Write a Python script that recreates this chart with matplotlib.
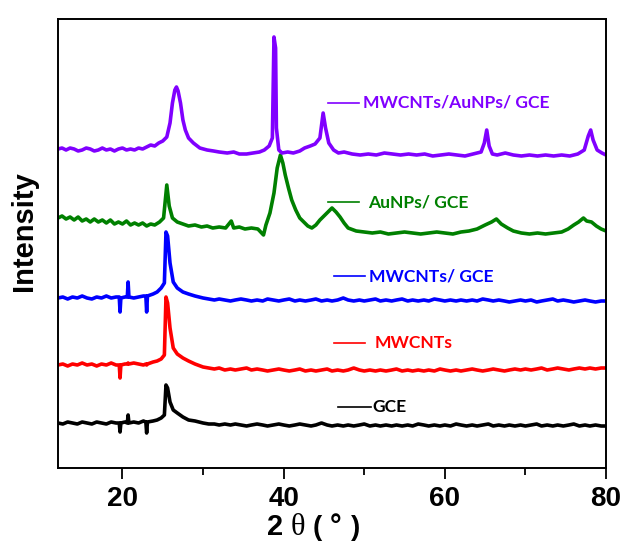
import matplotlib
matplotlib.use("Agg")
import matplotlib.pyplot as plt

# ---------------- data (arbitrary intensity units, stacked) ----------------
head_x = [12, 12.6, 13.2, 13.8, 14.4, 15, 15.6, 16.2, 16.8, 17.4, 18, 18.6, 19.2,
          19.6, 19.7, 19.8, 20.3, 20.6, 20.7, 20.8, 21.4, 22, 22.6, 22.9, 23.0, 23.1,
          23.8, 24.3, 24.8, 25.2, 25.4, 25.6, 25.9, 26.3, 26.8, 27.5, 28.2, 29]
tail_x = [30, 30.7, 31.4, 32, 32.7, 33.4, 34, 34.7, 35.4, 36, 36.7, 37.4, 38, 38.7, 39.4,
          40, 40.7, 41.4, 42, 42.7, 43.4, 44, 44.7, 45.4, 46, 46.7, 47.4, 48, 48.7, 49.4,
          50, 50.7, 51.4, 52, 52.7, 53.4, 54, 54.7, 55.4, 56, 56.7, 57.4, 58, 58.7, 59.4,
          60, 60.7, 61.4, 62, 62.7, 63.4, 64, 64.7, 65.4, 66, 66.7, 67.4, 68, 68.7, 69.4,
          70, 70.7, 71.4, 72, 72.7, 73.4, 74, 74.7, 75.4, 76, 76.7, 77.4, 78, 78.7, 79.4, 80]
two_theta = head_x + tail_x

gce_y = [45, 44, 46, 45, 44, 46, 45, 44, 46, 45, 44, 46, 45,
         45, 36, 45, 46, 45, 53, 45, 46, 45, 47, 46, 35, 46,
         47, 48, 50, 53, 83, 80, 66, 58, 55, 51, 48, 47,
         45, 44, 44, 43, 44, 43, 44, 43, 42, 43,
         44, 43, 42, 43, 44, 43, 42, 43, 44, 43,
         42, 43, 45, 43, 42, 43, 42, 43, 42, 43,
         44, 42, 43, 42, 43, 42, 43, 42, 43, 42,
         44, 43, 42, 43, 42, 43, 42, 44, 43, 42,
         43, 42, 43, 44, 42, 43, 42, 43, 42, 43,
         42, 43, 44, 42, 43, 42, 43, 42, 43, 44,
         42, 43, 42, 43, 42, 42]

mwcnt_y = [103, 104, 102, 104, 103, 105, 103, 104, 102, 104, 103, 105, 103,
           103, 90, 103, 104, 104, 105, 104, 105, 104, 103, 104, 103, 104,
           106, 107, 109, 113, 171, 165, 140, 120, 114, 110, 107, 104,
           101, 100, 99, 100, 98, 99, 98, 99, 100, 98,
           99, 98, 97, 98, 99, 98, 97, 98, 99, 97,
           98, 97, 98, 99, 97, 98, 97, 98, 100, 98,
           97, 98, 97, 98, 97, 98, 99, 97, 98, 97,
           98, 97, 98, 97, 99, 98, 97, 98, 97, 98,
           99, 98, 97, 98, 99, 98, 97, 98, 99, 98,
           99, 98, 99, 100, 98, 99, 100, 99, 98, 99,
           100, 99, 100, 99, 100, 100]

mwcnt_gce_y = [170, 171, 169, 171, 170, 172, 170, 169, 171, 170, 172, 170, 171,
               171, 156, 170, 171, 171, 186, 171, 170, 171, 172, 172, 156, 172,
               174, 176, 180, 185, 236, 232, 205, 186, 180, 176, 174, 172,
               170, 169, 168, 169, 168, 167, 168, 169, 168, 167,
               168, 167, 169, 168, 167, 168, 169, 167, 168, 167,
               168, 169, 167, 168, 167, 168, 170, 168, 167, 168,
               167, 168, 169, 167, 168, 167, 168, 169, 167, 168,
               167, 168, 167, 169, 168, 167, 168, 167, 168, 167,
               168, 167, 169, 168, 167, 168, 167, 166, 167, 168,
               167, 168, 166, 167, 168, 169, 167, 168, 167, 166,
               167, 168, 167, 166, 167, 167]

au_x = [12, 12.5, 13, 13.5, 14, 14.5, 15, 15.5, 16, 16.5, 17, 17.5, 18, 18.5, 19, 19.5,
        20, 20.5, 21, 21.5, 22, 22.5, 23, 23.5, 24, 24.6, 25.1, 25.5, 25.8, 26.2, 26.8,
        27.5, 28.2, 29, 29.8, 30.5, 31.2, 32, 32.8, 33.5, 33.8, 34.5, 35.2, 36, 36.8,
        37.5, 37.8, 38.3, 38.8, 39.2, 39.6, 39.9, 40.2, 40.6, 41, 41.5, 42, 42.5, 43,
        43.5, 44, 44.5, 45, 45.5, 46, 46.5, 47, 47.5, 48, 49, 50, 51, 52, 53, 54, 55,
        56, 57, 58, 59, 60, 61, 62, 63, 64, 65, 65.8, 66.4, 67, 67.8, 68.5, 69.5, 70.5,
        71.5, 72.5, 73.5, 74.5, 75.3, 76, 76.6, 77.2, 77.6, 78.2, 78.8, 79.4, 80]
au_gce_y = [250, 252, 249, 251, 248, 251, 247, 249, 246, 249, 246, 248, 245, 248, 244, 246,
            244, 247, 243, 245, 243, 245, 242, 244, 243, 246, 250, 283, 262, 250, 246,
            244, 242, 243, 241, 242, 240, 241, 240, 247, 240, 241, 239, 240, 239,
            233, 243, 255, 275, 300, 313, 305, 293, 280, 268, 258, 250, 246, 242,
            240, 243, 248, 252, 256, 260, 256, 251, 245, 240, 237, 236, 235, 236, 234, 235, 236,
            235, 234, 235, 236, 235, 234, 236, 237, 239, 243, 246, 249, 244, 240, 237, 235, 234,
            235, 234, 235, 236, 239, 243, 246, 250, 247, 246, 242, 239, 237]

mix_x = [12, 12.5, 13, 13.5, 14, 14.5, 15, 15.5, 16, 16.5, 17, 17.5, 18, 18.5, 19, 19.5,
         20, 20.5, 21, 21.5, 22, 22.5, 23, 23.5, 24, 24.5, 25, 25.5, 25.9, 26.2, 26.5, 26.7,
         26.9, 27.2, 27.5, 27.8, 28.2, 28.8, 29.6, 30.5, 31.3, 32, 33, 33.8, 34.5, 35.4,
         36.2, 37, 37.6, 38.2, 38.6, 38.8, 39.0, 39.1, 39.4, 39.8, 40.5, 41.2, 42, 42.6,
         43.3, 43.9, 44.5, 44.9, 45.2, 45.6, 46.2, 46.8, 47.5, 48.5, 49.5, 50.5, 51.5,
         52.5, 53.5, 54.5, 55.5, 56.5, 57.5, 58.5, 59.5, 60.5, 61.5, 62.5, 63.5, 64.5,
         64.9, 65.2, 65.5, 65.9, 66.5, 67.5, 68.5, 69.5, 70.5, 71.5, 72.5, 73.5, 74.5,
         75.5, 76.5, 77.3, 77.8, 78.1, 78.4, 78.9, 79.5, 80]
mix_y = [319, 320, 318, 320, 319, 317, 318, 320, 319, 317, 318, 320, 318, 319, 317, 319,
         320, 318, 319, 318, 320, 319, 321, 323, 322, 325, 327, 331, 345, 365, 378, 381,
         377, 365, 348, 338, 330, 325, 320, 318, 317, 316, 315, 316, 314, 314,
         315, 316, 318, 322, 330, 431, 420, 340, 318, 315, 316, 315, 317, 320,
         322, 324, 330, 355, 340, 325, 318, 315, 316, 314, 313, 314, 313,
         315, 314, 313, 314, 313, 314, 312, 313, 314, 313, 312, 314, 316,
         325, 338, 322, 314, 313, 315, 313, 312, 313, 312, 313, 312, 313,
         312, 314, 318, 332, 338, 328, 318, 315, 313]

labels = ["GCE", "MWCNTs", "MWCNTs/ GCE", "AuNPs/ GCE", "MWCNTs/AuNPs/ GCE"]
colors = ["#000000", "#ff0000", "#0000ff", "#008000", "#8000ff"]

series = [(two_theta, gce_y), (two_theta, mwcnt_y), (two_theta, mwcnt_gce_y),
          (au_x, au_gce_y), (mix_x, mix_y)]

# label anchor (line start, line end, text x, y) in data coords
label_pos = [(46.7, 50.8, 51.0, 61), (46.2, 50.1, 51.3, 125), (46.2, 50.1, 50.6, 192),
             (45.5, 49.3, 50.5, 266), (45.5, 49.3, 49.9, 365)]

# ---------------- figure ----------------
fig = plt.figure(figsize=(6.21, 5.44), dpi=100)
ax = fig.add_axes([58 / 621, 76 / 544, 548 / 621, 449 / 544])

for (xs, ys), c in zip(series, colors):
    ax.plot(xs, ys, color=c, lw=2.6, solid_joinstyle="round")

for (x0, x1, xt, yv), lab, c in zip(label_pos, labels, colors):
    ax.plot([x0, x1], [yv, yv], color=c, lw=1.2)
    ax.text(xt, yv, lab, color=c, fontsize=12.6, fontweight="bold",
            family=["Lato", "DejaVu Sans"], va="center", ha="left")

ax.set_xlim(12, 80)
ax.set_ylim(0, 449)
ax.set_yticks([])
ax.set_xticks([20, 40, 60, 80])
ax.set_xticks([30, 50, 70], minor=True)
ax.tick_params(axis="x", which="major", length=8, width=1.3, direction="out", pad=5)
ax.tick_params(axis="x", which="minor", length=5, width=1.3, direction="out")
for lbl in ax.get_xticklabels():
    lbl.set_family(["Liberation Sans", "DejaVu Sans"])
    lbl.set_fontweight("bold")
    lbl.set_fontsize(20)
for s in ax.spines.values():
    s.set_linewidth(1.4)

# y label
fig.text(24 / 621, 1 - 231 / 544, "Intensity", rotation=90, fontsize=21, fontweight="bold",
         family=["Liberation Sans", "DejaVu Sans"], ha="center", va="center")

# x label: 2 θ ( ° )
yb = 1 - 535 / 544
bold_fam = ["Liberation Sans", "DejaVu Sans"]
fig.text(267 / 621, yb, "2", fontsize=21, fontweight="bold", family=bold_fam,
         ha="left", va="baseline")
fig.text(291 / 621, yb, "θ", fontsize=22, family=["Liberation Serif", "DejaVu Serif"],
         ha="left", va="baseline")
fig.text(313 / 621, yb, "(", fontsize=20, fontweight="bold", family=bold_fam,
         ha="left", va="baseline")
fig.text(330 / 621, yb, "°", fontsize=21, fontweight="bold", family=bold_fam,
         ha="left", va="baseline")
fig.text(351 / 621, yb, ")", fontsize=20, fontweight="bold", family=bold_fam,
         ha="left", va="baseline")

fig.savefig("out.png", dpi=100)
